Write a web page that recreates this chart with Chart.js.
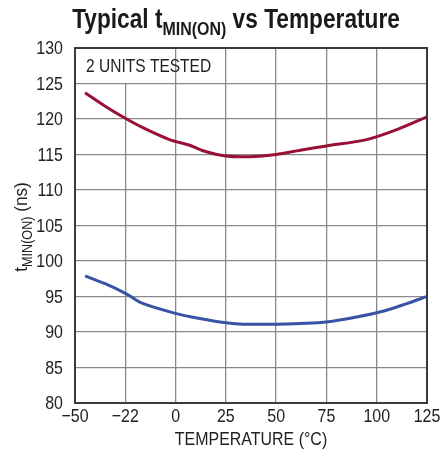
<!DOCTYPE html>
<html>
<head>
<meta charset="utf-8">
<script src="https://cdn.jsdelivr.net/npm/chart.js@4"></script>
<style>
  body { margin: 0; background: #fff; }
  #chart { display: block; }
</style>
</head>
<body>
<canvas id="chart" width="442" height="460"></canvas>
<script>
var FONT = '"Liberation Sans", Arial, sans-serif';
var NARROW = 0.84; // squeeze text horizontally, no condensed font installed

// data
var redTemps = [-45, -35, -25, -15, -3, 7, 14, 25, 37, 50, 62, 75, 95, 110, 125];
var redValues = [123.7, 121.8, 120.1, 118.6, 117.1, 116.3, 115.5, 114.8, 114.7, 115.0, 115.6, 116.2, 117.1, 118.5, 120.3];
var blueTemps = [-45, -35, -24, -17, -1, 12, 25, 34, 50, 62, 75, 90, 104, 115, 125];
var blueValues = [97.9, 96.8, 95.3, 94.1, 92.7, 91.9, 91.3, 91.1, 91.1, 91.2, 91.4, 92.1, 93.0, 94.0, 95.0];
var xTicks = [-50, -25, 0, 25, 50, 75, 100, 125];
var xTickLabels = ['\u221250', '\u221222', '0', '25', '50', '75', '100', '125'];
var yTicks = [80, 85, 90, 95, 100, 105, 110, 115, 120, 125, 130];

// draws a run of text pieces (for subscripts), squeezed horizontally
function drawRuns(ctx, runs, x, y, align) {
  var total = 0;
  runs.forEach(function(p) { ctx.font = p.f; p.w = ctx.measureText(p.t).width; total += p.w; });
  ctx.save();
  ctx.translate(x, y);
  ctx.scale(NARROW, 1);
  var cx = align === 'center' ? -total / 2 : align === 'right' ? -total : 0;
  ctx.textAlign = 'left';
  runs.forEach(function(p) { ctx.font = p.f; ctx.fillText(p.t, cx, p.dy || 0); cx += p.w; });
  ctx.restore();
}

var overlay = {
  id: 'overlay',
  afterDraw: function(chart) {
    var ctx = chart.ctx;
    var area = chart.chartArea;
    var xs = chart.scales.x, ys = chart.scales.y;
    ctx.save();

    // frame
    ctx.strokeStyle = '#3a3a3a';
    ctx.lineWidth = 2;
    ctx.strokeRect(area.left, area.top, area.right - area.left, area.bottom - area.top);

    // note box
    var yTop = ys.getPixelForValue(130);
    var yBot = ys.getPixelForValue(125);
    var xR = xs.getPixelForValue(0);
    ctx.fillStyle = '#fff';
    ctx.fillRect(area.left + 1, yTop + 1, xR - area.left - 1.7, yBot - yTop - 1.7);
    ctx.fillStyle = '#222';
    ctx.textBaseline = 'middle';
    drawRuns(ctx, [{ t: '2 UNITS TESTED', f: '18.5px ' + FONT }], area.left + 11, (yTop + yBot) / 2 + 1, 'left');

    // tick labels
    yTicks.forEach(function(v) {
      drawRuns(ctx, [{ t: String(v), f: '19px ' + FONT }], area.left - 12, ys.getPixelForValue(v) + 1, 'right');
    });
    xTicks.forEach(function(v, i) {
      drawRuns(ctx, [{ t: xTickLabels[i], f: '19px ' + FONT }], xs.getPixelForValue(v), 417, 'center');
    });
    drawRuns(ctx, [{ t: 'TEMPERATURE (\u00b0C)', f: '19px ' + FONT }], (area.left + area.right) / 2, 440, 'center');

    // title with subscript
    ctx.fillStyle = '#1a1a1a';
    ctx.textBaseline = 'alphabetic';
    drawRuns(ctx, [
      { t: 'Typical t', f: 'bold 27px ' + FONT },
      { t: 'MIN(ON)', f: 'bold 19px ' + FONT, dy: 7 },
      { t: ' vs Temperature', f: 'bold 27px ' + FONT }
    ], 236, 28, 'center');

    // y axis title with subscript
    ctx.fillStyle = '#222';
    ctx.translate(27, 227);
    ctx.rotate(-Math.PI / 2);
    ctx.scale(0.9 / NARROW, 1);
    drawRuns(ctx, [
      { t: 't', f: '19px ' + FONT },
      { t: 'MIN(ON)', f: '14px ' + FONT, dy: 5 },
      { t: ' (ns)', f: '19px ' + FONT }
    ], 0, 0, 'center');
    ctx.restore();
  }
};

function toPoints(xs, ys) {
  return xs.map(function(t, i) { return { x: t, y: ys[i] }; });
}

var ctx = document.getElementById('chart').getContext('2d');
var chart = new Chart(ctx, {
  type: 'scatter',
  data: {
    datasets: [{
      data: toPoints(redTemps, redValues),
      showLine: true,
      borderColor: '#9a0f35',
      borderWidth: 3,
      pointRadius: 0,
      tension: 0.3
    }, {
      data: toPoints(blueTemps, blueValues),
      showLine: true,
      borderColor: '#3953a4',
      borderWidth: 3,
      pointRadius: 0,
      tension: 0.3
    }]
  },
  options: {
    responsive: false,
    animation: false,
    layout: { padding: { top: 48, right: 15, left: 0, bottom: 0 } },
    plugins: { legend: { display: false }, tooltip: { enabled: false } },
    scales: {
      x: {
        type: 'linear',
        min: -50,
        max: 125,
        ticks: { stepSize: 25, display: false },
        grid: { color: '#8a8a8a', lineWidth: 1.3, drawTicks: false },
        border: { color: '#3a3a3a', width: 2 },
        afterFit: function(s) { s.height = 57; }
      },
      y: {
        min: 80,
        max: 130,
        ticks: { stepSize: 5, display: false },
        grid: { color: '#8a8a8a', lineWidth: 1.3, drawTicks: false },
        border: { color: '#3a3a3a', width: 2 },
        afterFit: function(s) { s.width = 75; }
      }
    }
  },
  plugins: [overlay]
});
</script>
</body>
</html>
